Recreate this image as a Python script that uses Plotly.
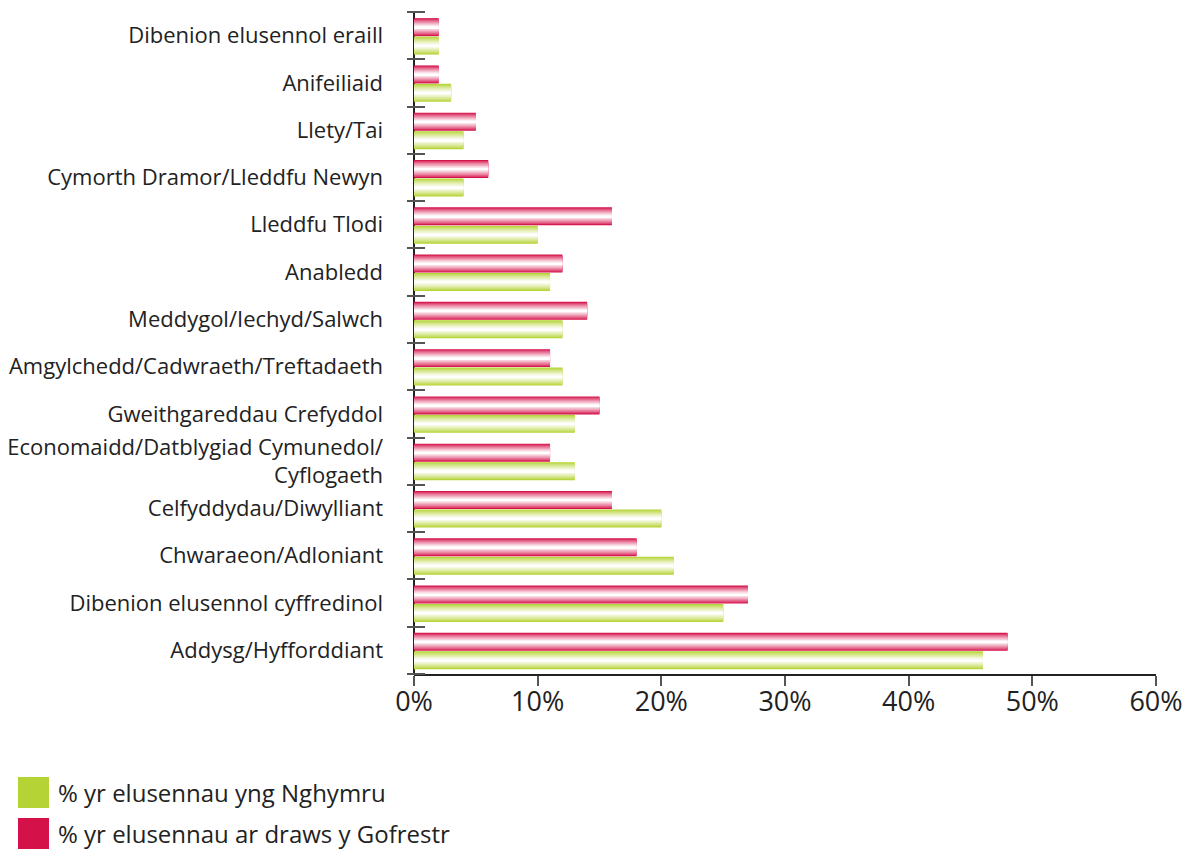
import plotly.graph_objects as go

# Categories listed bottom to top
categories = [
    "Addysg/Hyfforddiant",
    "Dibenion elusennol cyffredinol",
    "Chwaraeon/Adloniant",
    "Celfyddydau/Diwylliant",
    "Economaidd/Datblygiad Cymunedol/<br>Cyflogaeth",
    "Gweithgareddau Crefyddol",
    "Amgylchedd/Cadwraeth/Treftadaeth",
    "Meddygol/Iechyd/Salwch",
    "Anabledd",
    "Lleddfu Tlodi",
    "Cymorth Dramor/Lleddfu Newyn",
    "Llety/Tai",
    "Anifeiliaid",
    "Dibenion elusennol eraill",
]
wales_pct = [46, 25, 21, 20, 13, 13, 12, 12, 11, 10, 4, 4, 3, 2]
register_pct = [48, 27, 18, 16, 11, 15, 11, 14, 12, 16, 6, 5, 2, 2]

series_names = ["% yr elusennau yng Nghymru", "% yr elusennau ar draws y Gofrestr"]
x_ticks = [0, 10, 20, 30, 40, 50, 60]
x_labels = ["0%", "10%", "20%", "30%", "40%", "50%", "60%"]

GREEN = (181, 211, 52)
RED = (213, 17, 74)


def mix(c, t):
    r, g, b = [int(round(v + (255 - v) * t)) for v in c]
    return f"rgb({r},{g},{b})"


# page has an 8px body margin; figure coordinates are offset accordingly
W, H = 1189, 841
L, R, T, B = 406, 41, 4, 175
PW = W - L - R
PH = H - T - B

fig = go.Figure()

BAR_H = 0.38
N = 10
for values, color, center in [(wales_pct, GREEN, -0.21), (register_pct, RED, 0.18)]:
    for k in range(N):
        f = 1 - k / N
        t = (k / (N - 1)) ** 0.8
        w = BAR_H * f
        fig.add_trace(go.Bar(
            x=values, y=categories, orientation="h",
            width=w, offset=center - w / 2,
            marker=dict(color=mix(color, t), line=dict(width=0)),
            showlegend=False, hoverinfo="x+y",
        ))

fig.update_layout(
    width=W, height=H,
    margin=dict(l=L, r=R, t=T, b=B, autoexpand=False),
    plot_bgcolor="white", paper_bgcolor="white",
    barmode="overlay",
    font=dict(family="Open Sans", color="#222"),
    showlegend=False,
    xaxis=dict(
        range=[0, 60], tickvals=x_ticks, ticktext=x_labels,
        showgrid=False, automargin=False,
        zeroline=True, zerolinecolor="#222", zerolinewidth=2,
        showline=True, linecolor="#222", linewidth=2,
        ticks="outside", ticklen=10, tickwidth=2, tickcolor="#555",
        tickfont=dict(size=27, color="#222"),
        ticklabelstandoff=-7,
    ),
    yaxis=dict(
        type="category", categoryarray=categories, range=[-0.5, 13.5],
        anchor="free", position=11 / PW, automargin=False,
        showgrid=False, zeroline=False, showline=False,
        ticks="outside", tickson="boundaries", ticklen=18, tickwidth=2, tickcolor="#555",
        tickfont=dict(size=22, color="#222"),
        ticklabelstandoff=42,
    ),
)

# legend keys
for i, (name, col) in enumerate(zip(series_names, [mix(GREEN, 0.0), mix(RED, 0.0)])):
    top = 777 - 8 + i * 41
    fig.add_shape(type="rect", xref="paper", yref="paper",
                  x0=(18 - 8 - L) / PW, x1=(49 - 8 - L) / PW,
                  y0=(T + PH - top) / PH, y1=(T + PH - (top + 31)) / PH,
                  fillcolor=col, line=dict(width=0))
    fig.add_annotation(xref="paper", yref="paper",
                       x=(56 - 8 - L) / PW, y=(T + PH - (top + 15.5)) / PH,
                       xanchor="left", yanchor="middle", showarrow=False,
                       text=name, font=dict(size=24, color="#222"))

fig.write_html("out.html")
